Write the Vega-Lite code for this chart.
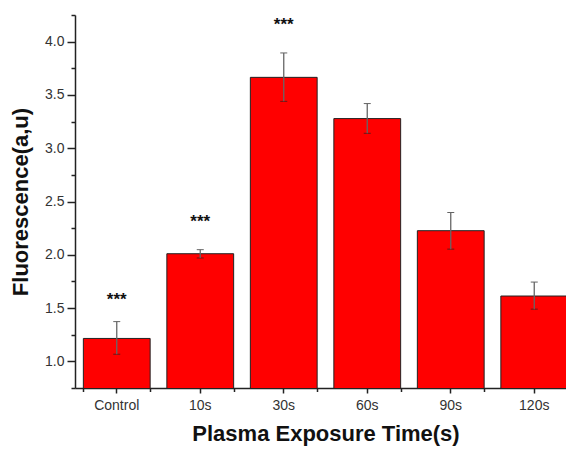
{
  "$schema": "https://vega.github.io/schema/vega-lite/v6.json",
  "width": 491,
  "height": 373,
  "autosize": {"type": "none"},
  "padding": {"left": 75, "top": 15, "right": 0, "bottom": 61},
  "background": "white",
  "config": {"view": {"stroke": null}, "font": "Liberation Sans", "axis": {"grid": false}},
  "data": {"values": [
    {"time": "Control", "mean": 1.215, "lo": 1.067, "hi": 1.373, "sig": "***", "sigY": 1.575},
    {"time": "10s", "mean": 2.01, "lo": 1.97, "hi": 2.048, "sig": "***", "sigY": 2.305},
    {"time": "30s", "mean": 3.665, "lo": 3.44, "hi": 3.894, "sig": "***", "sigY": 4.155},
    {"time": "60s", "mean": 3.278, "lo": 3.14, "hi": 3.419, "sig": "", "sigY": null},
    {"time": "90s", "mean": 2.226, "lo": 2.053, "hi": 2.397, "sig": "", "sigY": null},
    {"time": "120s", "mean": 1.613, "lo": 1.49, "hi": 1.744, "sig": "", "sigY": null}
  ]},
  "resolve": {"scale": {"x": "independent", "y": "independent"}},
  "layer": [
    {
      "layer": [
        {
          "mark": {"type": "bar", "fill": "#ff0000", "stroke": "#222222", "strokeWidth": 1, "clip": true},
          "encoding": {
            "x": {"field": "time", "type": "nominal", "sort": null,
              "scale": {"type": "band", "domain": ["Control", "10s", "30s", "60s", "90s", "120s"], "range": [0, 501], "paddingInner": 0.2, "paddingOuter": 0.1},
              "axis": {"orient": "bottom", "title": "Plasma Exposure Time(s)", "labelAngle": 0, "tickSize": 5, "tickWidth": 1.5, "tickColor": "#222222", "domainColor": "#222222", "domainWidth": 1.5, "labelFontSize": 14, "labelColor": "#333333", "labelPadding": 5, "titleFontSize": 22, "titleFontWeight": "bold", "titleColor": "#111111", "titlePadding": 11}},
            "y": {"field": "mean", "type": "quantitative",
              "scale": {"domain": [0.75, 4.25], "nice": false, "zero": false},
              "axis": {"orient": "left", "title": "Fluorescence(a,u)", "values": [1, 1.5, 2, 2.5, 3, 3.5, 4], "format": ".1f", "tickSize": 8, "tickWidth": 1.5, "tickColor": "#222222", "domainColor": "#222222", "domainWidth": 1.5, "labelFontSize": 14, "labelColor": "#333333", "labelPadding": 3, "titleFontSize": 22, "titleFontWeight": "bold", "titleColor": "#111111", "titlePadding": 12}}
          }
        },
        {
          "mark": {"type": "errorbar", "ticks": {"size": 7, "color": "#222222", "strokeWidth": 1.3}, "rule": {"color": "#666666", "strokeWidth": 1.3}},
          "encoding": {
            "x": {"field": "time", "type": "nominal", "sort": null},
            "y": {"field": "lo", "type": "quantitative", "title": "Fluorescence(a,u)"},
            "y2": {"field": "hi"}
          }
        },
        {
          "transform": [{"filter": "datum.sig != ''"}],
          "mark": {"type": "text", "fontSize": 17, "fontWeight": "bold", "baseline": "middle", "color": "#111111"},
          "encoding": {
            "x": {"field": "time", "type": "nominal", "sort": null},
            "y": {"field": "sigY", "type": "quantitative", "title": "Fluorescence(a,u)"},
            "text": {"field": "sig"}
          }
        }
      ]
    },
    {
      "mark": {"type": "point", "opacity": 0},
      "encoding": {
        "x": {"field": "time", "type": "nominal", "sort": null,
          "scale": {"type": "band", "domain": ["Control", "10s", "30s", "60s", "90s", "120s"], "range": [0, 501], "paddingInner": 0.2, "paddingOuter": 0.1},
          "axis": {"orient": "bottom", "title": null, "labels": false, "domain": false, "tickBand": "extent", "tickSize": 3.5, "tickWidth": 1.5, "tickColor": "#222222"}},
        "y": {"field": "mean", "type": "quantitative",
          "scale": {"domain": [0.75, 4.25], "nice": false, "zero": false},
          "axis": {"orient": "left", "title": null, "labels": false, "domain": false, "values": [0.75, 1.25, 1.75, 2.25, 2.75, 3.25, 3.75, 4.25], "tickSize": 4, "tickWidth": 1.5, "tickColor": "#222222"}}
      }
    }
  ]
}
